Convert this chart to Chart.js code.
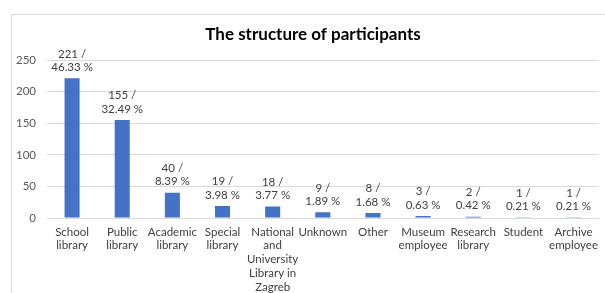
<!DOCTYPE html>
<html lang="en">
<head>
  <meta charset="UTF-8" />
  <title>The structure of participants</title>
  <script src="https://cdn.jsdelivr.net/npm/chart.js"></script>
  <style>
    body { margin: 0; background: #fff; }
    canvas { display: block; }
  </style>
</head>
<body>
  <canvas id="chart" width="605" height="293"></canvas>

  <script>
    // === Data ===
    const categories = [
      ["School", "library"],
      ["Public", "library"],
      ["Academic", "library"],
      ["Special", "library"],
      ["National", "and", "University", "Library in", "Zagreb"],
      ["Unknown"],
      ["Other"],
      ["Museum", "employee"],
      ["Research", "library"],
      ["Student"],
      ["Archive", "employee"]
    ];
    const counts = [221, 155, 40, 19, 18, 9, 8, 3, 2, 1, 1];
    const percents = ["46.33", "32.49", "8.39", "3.98", "3.77", "1.89", "1.68", "0.63", "0.42", "0.21", "0.21"];
    const yTicks = [0, 50, 100, 150, 200, 250];
    const titleText = "The structure of participants";

    const FONT = "Lato, 'Open Sans', sans-serif";

    // === Outer frame + title (title centred on the frame, not the canvas) ===
    const frame = {
      id: "frame",
      beforeDraw(chart) {
        const c = chart.ctx;
        c.save();
        c.strokeStyle = "#d9d9d9";
        c.lineWidth = 1;
        c.strokeRect(11.5, 14.5, 700, 400);
        c.font = "bold 17px " + FONT;
        c.fillStyle = "#000";
        c.textAlign = "center";
        c.textBaseline = "middle";
        c.fillText(titleText, 313, 35);
        c.restore();
      }
    };

    // === Two-line value labels above bars ===
    const valueLabels = {
      id: "valueLabels",
      afterDatasetsDraw(chart) {
        const c = chart.ctx;
        const meta = chart.getDatasetMeta(0);
        c.save();
        c.font = "11.5px " + FONT;
        c.fillStyle = "#404040";
        c.textAlign = "center";
        c.textBaseline = "middle";
        meta.data.forEach((bar, i) => {
          c.fillText(counts[i] + " /", bar.x, bar.y - 24.5);
          c.fillText(percents[i] + " %", bar.x, bar.y - 11);
        });
        c.restore();
      }
    };

    const ctx = document.getElementById("chart").getContext("2d");
    new Chart(ctx, {
      type: "bar",
      data: {
        labels: categories,
        datasets: [{
          data: counts,
          backgroundColor: "#4472c4",
          barPercentage: 0.3,
          categoryPercentage: 1.0
        }]
      },
      options: {
        responsive: false,
        animation: false,
        layout: { padding: { left: 0, right: 0, top: 60, bottom: 0 } },
        plugins: {
          legend: { display: false },
          tooltip: { enabled: false },
          title: { display: false }
        },
        scales: {
          x: {
            grid: { display: false, drawTicks: false },
            border: { color: "#d9d9d9" },
            ticks: {
              color: "#404040",
              font: { family: FONT, size: 11.5, lineHeight: 1.2 },
              padding: 7,
              maxRotation: 0,
              autoSkip: false
            },
            afterFit(scale) { scale.height = 75; }
          },
          y: {
            min: 0,
            max: 250,
            afterBuildTicks(scale) { scale.ticks = yTicks.map(v => ({ value: v })); },
            grid: { color: "#d9d9d9", drawTicks: false },
            border: { display: false },
            ticks: {
              color: "#595959",
              font: { family: FONT, size: 11.5 },
              padding: 11
            },
            afterFit(scale) { scale.width = 47; }
          }
        }
      },
      plugins: [frame, valueLabels]
    });
  </script>
</body>
</html>
